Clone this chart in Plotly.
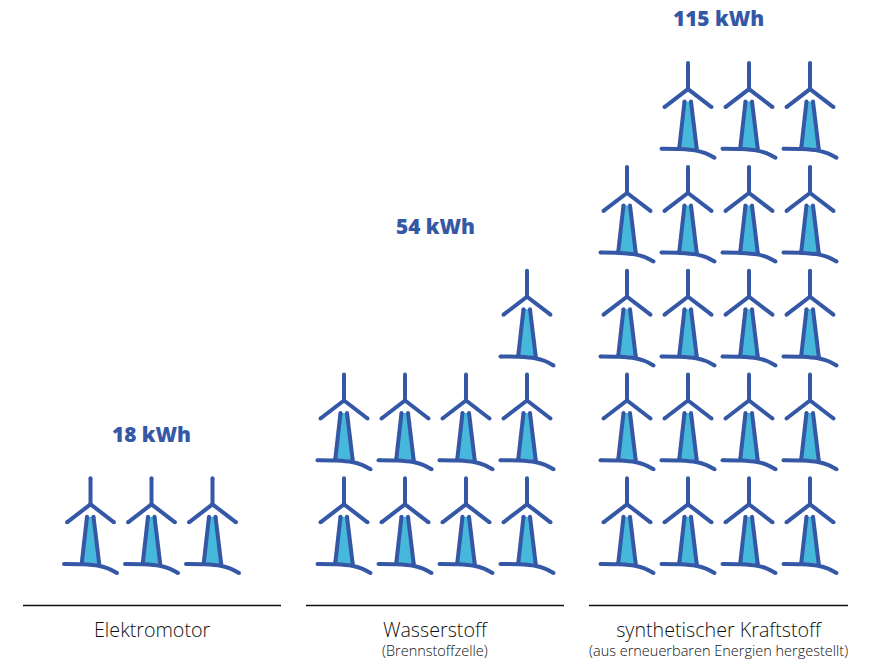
import plotly.graph_objects as go

# Energy demand per technology and the number of turbine icons representing it
categories = ["Elektromotor", "Wasserstoff", "synthetischer Kraftstoff"]
subtitles = ["", "(Brennstoffzelle)", "(aus erneuerbaren Energien hergestellt)"]
energy_kwh = [18, 54, 115]
turbine_counts = [3, 9, 19]

# Icon grid: columns per group, left edge of each group, spacing between icons
group_columns = [3, 4, 4]
group_first_hub_x = [90.5, 344.0, 627.0]
column_pitch = 61.0
row_pitch = 103.8
bottom_hub_y = 504.3
baseline_y = 605.5
baseline_span = [(23, 281), (306, 564), (589, 848)]
value_label_x = [151.5, 435, 718.5]
value_label_y = [434, 226, 18]

BLUE = "#3558a6"
CYAN = "#45b8dc"
INK = "#111111"

# Turbine outline, relative to the hub
tower_fill = [(-3.5, 12.5), (3, 12.5), (8.7, 59.5), (-8.7, 58.5)]
straight_strokes = [
    [(0, -26), (0, 0)],
    [(-23.5, 18), (0, 0), (23.5, 18)],
    [(-3.5, 12.5), (-8.7, 58.5)],
    [(3, 12.5), (8.7, 59.5)],
]
ground_stroke = [(-26.5, 59.7), (-8, 60), (8, 61.5), (18, 64.3), (26.5, 68.7)]
STROKE_WIDTH = 4.0


def icon_slots(count, columns):
    """Fill rows from the bottom; an incomplete top row is right-aligned."""
    slots = []
    row = 0
    while count > 0:
        in_row = min(count, columns)
        slots += [(columns - in_row + c, row) for c in range(in_row)]
        count -= in_row
        row += 1
    return slots


fill_x, fill_y, line_x, line_y, ground_x, ground_y, cap_x, cap_y = ([] for _ in range(8))
for count, columns, first_x in zip(turbine_counts, group_columns, group_first_hub_x):
    for col, row in icon_slots(count, columns):
        hx = first_x + col * column_pitch
        hy = bottom_hub_y - row * row_pitch
        for dx, dy in tower_fill + [tower_fill[0], (None, None)]:
            fill_x.append(None if dx is None else hx + dx)
            fill_y.append(None if dy is None else hy + dy)
        for stroke in straight_strokes:
            line_x += [hx + p[0] for p in stroke] + [None]
            line_y += [hy + p[1] for p in stroke] + [None]
            for p in (stroke[0], stroke[-1]):
                cap_x.append(hx + p[0])
                cap_y.append(hy + p[1])
        ground_x += [hx + p[0] for p in ground_stroke] + [None]
        ground_y += [hy + p[1] for p in ground_stroke] + [None]
        for p in (ground_stroke[0], ground_stroke[-1]):
            cap_x.append(hx + p[0])
            cap_y.append(hy + p[1])

fig = go.Figure()
fig.add_trace(go.Scatter(x=fill_x, y=fill_y, mode="lines", fill="toself",
                         fillcolor=CYAN, line=dict(width=0), hoverinfo="skip"))
fig.add_trace(go.Scatter(x=line_x, y=line_y, mode="lines",
                         line=dict(color=BLUE, width=STROKE_WIDTH),
                         hoverinfo="skip"))
fig.add_trace(go.Scatter(x=ground_x, y=ground_y, mode="lines",
                         line=dict(color=BLUE, width=STROKE_WIDTH, shape="spline", smoothing=1),
                         hoverinfo="skip"))
fig.add_trace(go.Scatter(x=cap_x, y=cap_y, mode="markers",
                         marker=dict(color=BLUE, size=STROKE_WIDTH, line=dict(width=0)),
                         hoverinfo="skip"))

# Baselines under each group
for x0, x1 in baseline_span:
    fig.add_trace(go.Scatter(x=[x0, x1], y=[baseline_y, baseline_y], mode="lines",
                             line=dict(color=INK, width=1.6), hoverinfo="skip"))

# Category caption, with the optional note on a smaller second line
for (x0, x1), name, note in zip(baseline_span, categories, subtitles):
    text = f'<span style="font-size:19.7px">{name}</span>'
    if note:
        text += f"<br>{note}"
    fig.add_annotation(x=(x0 + x1) / 2, y=614, yanchor="top", text=text, showarrow=False,
                       align="center",
                       font=dict(family="Open Sans", size=14.5, color=INK, weight=300))

for x, y, v in zip(value_label_x, value_label_y, energy_kwh):
    fig.add_annotation(x=x, y=y, text=f"{v} kWh", showarrow=False,
                       font=dict(family="Open Sans", size=20.8, color=BLUE, weight=800))

fig.update_layout(
    width=872, height=659, showlegend=False,
    margin=dict(l=0, r=0, t=0, b=0),
    paper_bgcolor="white", plot_bgcolor="white",
    xaxis=dict(range=[0, 872], visible=False, fixedrange=True),
    yaxis=dict(range=[659, 0], visible=False, fixedrange=True),
)
fig.write_html("out.html", config=dict(displayModeBar=False))
